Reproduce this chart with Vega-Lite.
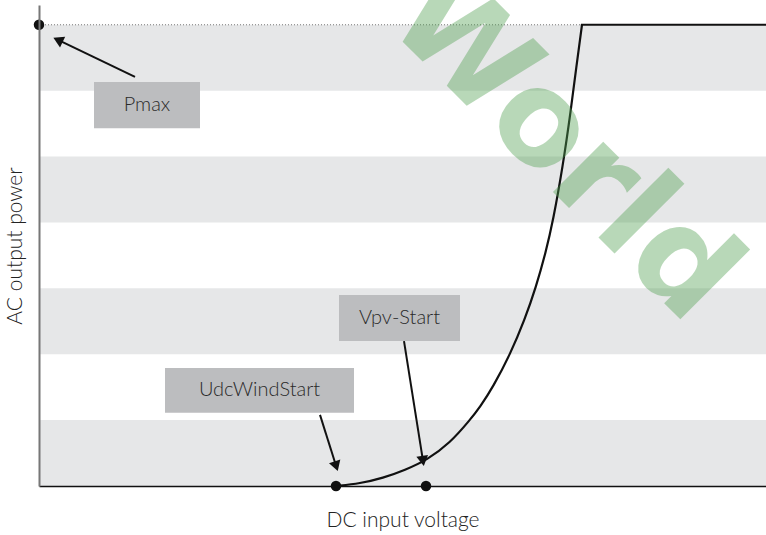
{
  "$schema": "https://vega.github.io/schema/vega-lite/v6.json",
  "width": 727,
  "height": 481,
  "autosize": {"type": "none"},
  "padding": {"left": 39, "top": 5, "right": 0, "bottom": 49},
  "background": "white",
  "config": {"view": {"stroke": null}},
  "datasets": {
    "bands": [
      {"lo": 0, "hi": 1, "x0": 0, "x1": 727},
      {"lo": 2, "hi": 3, "x0": 0, "x1": 727},
      {"lo": 4, "hi": 5, "x0": 0, "x1": 727},
      {"lo": 6, "hi": 7, "x0": 0, "x1": 727}
    ],
    "pmaxline": [{"x0": 0, "x1": 543, "p": 7}],
    "flat": [{"x0": 543, "x1": 727, "p": 7}],
    "curve": [
      {"v": 297, "p": 0},
      {"v": 321, "p": 0.038},
      {"v": 344, "p": 0.121},
      {"v": 366, "p": 0.243},
      {"v": 388, "p": 0.395},
      {"v": 411, "p": 0.652},
      {"v": 431, "p": 1.002},
      {"v": 441, "p": 1.199},
      {"v": 454, "p": 1.502},
      {"v": 471.3, "p": 2.003},
      {"v": 485.6, "p": 2.519},
      {"v": 497, "p": 3.02},
      {"v": 506.6, "p": 3.536},
      {"v": 514.2, "p": 4.036},
      {"v": 523.7, "p": 4.841},
      {"v": 531.9, "p": 5.706},
      {"v": 537.3, "p": 6.358},
      {"v": 543, "p": 7.0}
    ],
    "boxes": [
      {"label": "Pmax", "x0": 55, "x1": 161, "y0": 5.43, "y1": 6.13, "cx": 108, "cy": 5.78},
      {"label": "UdcWindStart", "x0": 126, "x1": 315, "y0": 1.11, "y1": 1.79, "cx": 220.5, "cy": 1.45},
      {"label": "Vpv-Start", "x0": 300, "x1": 421, "y0": 2.2, "y1": 2.9, "cx": 360.5, "cy": 2.55}
    ],
    "arrows": [
      {"label": "Pmax", "x0": 96, "y0": 6.21, "x1": 19, "y1": 6.77, "angle": 296},
      {"label": "UdcWindStart", "x0": 281, "y0": 1.08, "x1": 297.2, "y1": 0.3, "angle": 162.5},
      {"label": "Vpv-Start", "x0": 365, "y0": 2.2, "x1": 384, "y1": 0.38, "angle": 171}
    ],
    "dots": [
      {"v": 0, "p": 7},
      {"v": 297, "p": 0},
      {"v": 387, "p": 0}
    ],
    "wm": [{"t": "World", "v": 497, "p": 4.72}]
  },
  "layer": [
    {
      "data": {"name": "bands"},
      "mark": {"type": "rect", "color": "#e6e7e8"},
      "encoding": {
        "x": {"field": "x0", "type": "quantitative", "scale": {"domain": [0, 727], "nice": false, "zero": false},
              "axis": {"zindex": 1, "domain": true, "domainColor": "#111111", "domainWidth": 1.5, "ticks": false, "labels": false, "grid": false,
                       "title": "DC input voltage", "titleFont": "Lato", "titleFontSize": 21, "titleFontWeight": 300, "titleColor": "#222222", "titlePadding": 23}},
        "x2": {"field": "x1"},
        "y": {"field": "lo", "type": "quantitative", "scale": {"domain": [0, 7.3], "nice": false, "zero": false},
              "axis": {"zindex": 1, "domain": true, "domainColor": "#777777", "domainWidth": 2, "ticks": false, "labels": false, "grid": false,
                       "title": "AC output power", "titleFont": "Lato", "titleFontSize": 21, "titleFontWeight": 300, "titleColor": "#222222", "titlePadding": 14}},
        "y2": {"field": "hi"}
      }
    },
    {
      "data": {"name": "pmaxline"},
      "mark": {"type": "rule", "color": "#777777", "strokeWidth": 1, "strokeDash": [1, 2]},
      "encoding": {
        "x": {"field": "x0", "type": "quantitative"},
        "x2": {"field": "x1"},
        "y": {"field": "p", "type": "quantitative"}
      }
    },
    {
      "data": {"name": "curve"},
      "mark": {"type": "line", "color": "#111111", "strokeWidth": 2.2, "interpolate": "basis"},
      "encoding": {
        "x": {"field": "v", "type": "quantitative"},
        "y": {"field": "p", "type": "quantitative"}
      }
    },
    {
      "data": {"name": "flat"},
      "mark": {"type": "rule", "color": "#111111", "strokeWidth": 2.2, "strokeCap": "square"},
      "encoding": {
        "x": {"field": "x0", "type": "quantitative"},
        "x2": {"field": "x1"},
        "y": {"field": "p", "type": "quantitative"}
      }
    },
    {
      "data": {"name": "boxes"},
      "mark": {"type": "rect", "color": "#bcbdbf"},
      "encoding": {
        "x": {"field": "x0", "type": "quantitative"},
        "x2": {"field": "x1"},
        "y": {"field": "y0", "type": "quantitative"},
        "y2": {"field": "y1"}
      }
    },
    {
      "data": {"name": "boxes"},
      "mark": {"type": "text", "font": "Lato", "fontSize": 20, "fontWeight": 300, "color": "#2a2a2a", "align": "center", "baseline": "middle"},
      "encoding": {
        "x": {"field": "cx", "type": "quantitative"},
        "y": {"field": "cy", "type": "quantitative"},
        "text": {"field": "label"}
      }
    },
    {
      "data": {"name": "arrows"},
      "mark": {"type": "rule", "color": "#111111", "strokeWidth": 2},
      "encoding": {
        "x": {"field": "x0", "type": "quantitative"},
        "y": {"field": "y0", "type": "quantitative"},
        "x2": {"field": "x1"},
        "y2": {"field": "y1"}
      }
    },
    {
      "data": {"name": "arrows"},
      "mark": {"type": "point", "shape": "triangle-up", "filled": true, "color": "#111111", "size": 140, "opacity": 1},
      "encoding": {
        "x": {"field": "x1", "type": "quantitative"},
        "y": {"field": "y1", "type": "quantitative"},
        "angle": {"field": "angle", "type": "quantitative", "scale": null}
      }
    },
    {
      "data": {"name": "dots"},
      "mark": {"type": "circle", "color": "#111111", "size": 110, "opacity": 1},
      "encoding": {
        "x": {"field": "v", "type": "quantitative"},
        "y": {"field": "p", "type": "quantitative"}
      }
    },
    {
      "data": {"name": "wm"},
      "mark": {"type": "text", "font": "DejaVu Sans", "fontWeight": "bold", "fontSize": 130, "color": "#50a050", "opacity": 0.4, "angle": 45, "align": "center", "baseline": "alphabetic"},
      "encoding": {
        "x": {"field": "v", "type": "quantitative"},
        "y": {"field": "p", "type": "quantitative"},
        "text": {"field": "t"}
      }
    }
  ]
}
